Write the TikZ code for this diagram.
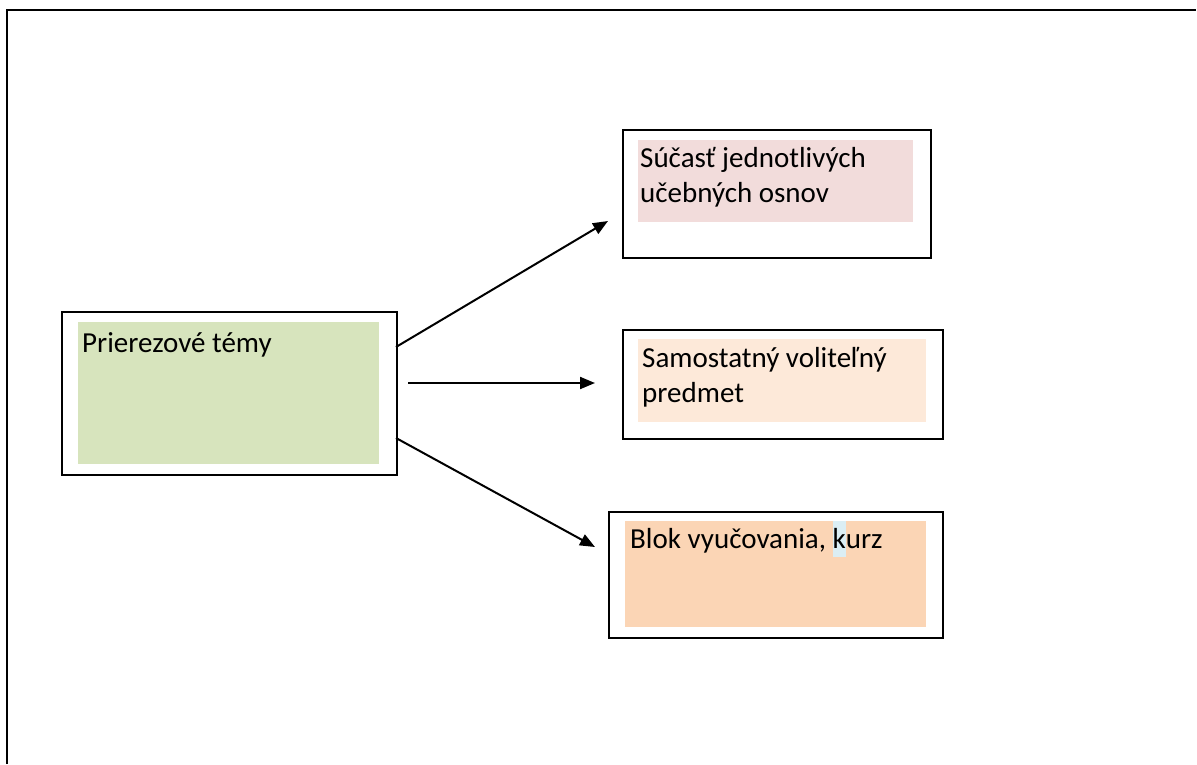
\documentclass[tikz,border=0pt]{standalone}
\usepackage{fontspec}
\setmainfont{Carlito}
\usetikzlibrary{arrows.meta}
\definecolor{fgreen}{HTML}{D7E4BD}
\definecolor{fpink}{HTML}{F2DCDB}
\definecolor{flpeach}{HTML}{FDE9D9}
\definecolor{fpeach}{HTML}{FBD5B5}
\definecolor{hlblue}{HTML}{DBEEF4}
\begin{document}
\begin{tikzpicture}[x=1pt,y=-1pt,
  boxframe/.style={draw=black, line width=2.4pt, fill=white, rectangle, inner sep=0pt, anchor=north west},
  boxfill/.style={fill=#1, draw=none, rectangle, inner sep=0pt, anchor=north west},
  label/.style={anchor=base west, inner sep=0pt, font=\fontsize{29pt}{35pt}\selectfont},
  arr/.style={line width=2pt, -{Triangle[length=15pt,width=12pt]}}]
\useasboundingbox (0,0) rectangle (1197,764);
% outer frame
\coordinate (fbl) at (7,764);
\coordinate (ftl) at (7,10);
\coordinate (ftr) at (1196,10);
\draw[line width=2.4pt] (fbl) -- (ftl) -- (ftr);
% left box
\node[boxframe, minimum width=335pt, minimum height=163pt] (lframe) at (61,311) {};
\node[boxfill=fgreen, minimum width=301pt, minimum height=142pt] (lfill) at (78,322) {};
\node[label] (ltext) at (82,352) {Prierezové témy};
% top right box
\node[boxframe, minimum width=308pt, minimum height=128pt] (tframe) at (622,129) {};
\node[boxfill=fpink, minimum width=275pt, minimum height=82pt] (tfill) at (638,140) {};
\node[label] (ttext1) at (640,167) {Súčasť jednotlivých};
\node[label] (ttext2) at (640,202) {učebných osnov};
% middle box
\node[boxframe, minimum width=320pt, minimum height=109pt] (mframe) at (622,329) {};
\node[boxfill=flpeach, minimum width=288pt, minimum height=83pt] (mfill) at (638,339) {};
\node[label] (mtext1) at (642,367) {Samostatný voliteľný};
\node[label] (mtext2) at (642,402) {predmet};
% bottom box
\node[boxframe, minimum width=334pt, minimum height=126pt] (bframe) at (608,511) {};
\node[boxfill=fpeach, minimum width=301pt, minimum height=106pt] (bfill) at (625,521) {};
\node[label] (btext) at (630,548) {Blok vyučovania, {\setlength\fboxsep{0pt}\colorbox{hlblue}{\rule[-9pt]{0pt}{36pt}k}}urz};
% arrows
\coordinate (a1s) at (396,347);
\coordinate (a1e) at (608,221);
\coordinate (a2s) at (408,383);
\coordinate (a2e) at (595,383);
\coordinate (a3s) at (396,438);
\coordinate (a3e) at (595,547);
\draw[arr] (a1s) -- (a1e);
\draw[arr] (a2s) -- (a2e);
\draw[arr] (a3s) -- (a3e);
\end{tikzpicture}
\end{document}
